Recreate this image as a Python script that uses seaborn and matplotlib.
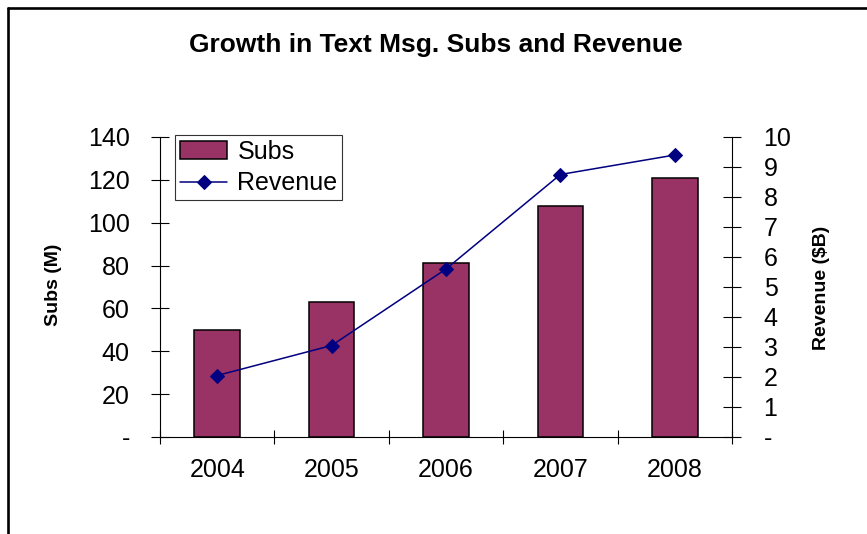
import numpy as np
import matplotlib
matplotlib.use("Agg")
import matplotlib.pyplot as plt
from matplotlib.ticker import FixedLocator, FuncFormatter
from matplotlib.lines import Line2D
import seaborn as sns

years = ["2004", "2005", "2006", "2007", "2008"]
subs = [50, 63, 81, 108, 121]
revenue = [2.05, 3.05, 5.6, 8.75, 9.4]

title = "Growth in Text Msg. Subs and Revenue"
ylabel_left = "Subs (M)"
ylabel_right = "Revenue ($B)"

sns.set_style("white")
plt.rcParams["font.family"] = ["Liberation Sans", "DejaVu Sans"]
plt.rcParams["text.color"] = "black"
plt.rcParams["axes.labelcolor"] = "black"
plt.rcParams["xtick.color"] = "black"
plt.rcParams["ytick.color"] = "black"

W, H = 867, 534
fig = plt.figure(figsize=(W / 100, H / 100), dpi=100)
fig.patch.set_facecolor("white")

x0, x1, yb, yt = 160, 732, 437, 137
ax = fig.add_axes([x0 / W, 1 - yb / H, (x1 - x0) / W, (yb - yt) / H])
ax.set_facecolor("white")

sns.barplot(x=years, y=subs, ax=ax, color="#993366", saturation=1, width=0.4,
            edgecolor="black", linewidth=1.1, label="Subs")
ax.set_xlim(-0.5, len(years) - 0.5)
ax.set_ylim(0, 140)
ax.set_yticks(np.arange(0, 141, 20))

ax2 = ax.twinx()
sns.lineplot(x=np.arange(len(years)), y=revenue, ax=ax2, color="#000080",
             marker="D", markersize=7, markeredgecolor="#000080",
             linewidth=1.1, label="Revenue", legend=False)
ax2.set_ylim(0, 10)
ax2.set_yticks(np.arange(0, 11, 1))
ax2.set_xlim(-0.5, len(years) - 0.5)

fmt = FuncFormatter(lambda v, p: "-" if abs(v) < 1e-9 else f"{int(round(v))}")
ax.yaxis.set_major_formatter(fmt)
ax2.yaxis.set_major_formatter(fmt)

# x ticks: marks at category boundaries, labels at centers
ax.xaxis.set_major_locator(FixedLocator(np.arange(-0.5, len(years), 1.0)))
ax.xaxis.set_major_formatter(FuncFormatter(lambda v, p: ""))
ax.set_xticks(np.arange(len(years)), labels=years, minor=True)
ax.tick_params(axis="x", which="major", direction="inout", length=9.5,
               width=0.8, color="black", bottom=True)
ax.tick_params(axis="x", which="minor", length=0, pad=15, labelsize=18)

ax.tick_params(axis="y", direction="inout", length=13.5, width=0.8,
               color="black", left=True, labelsize=18, pad=15)
ax2.tick_params(axis="y", direction="inout", length=13.5, width=0.8,
                color="black", right=True, labelsize=18, pad=16)
ax2.tick_params(axis="x", bottom=False, labelbottom=False)

for a in (ax, ax2):
    for s in a.spines.values():
        s.set_color("black")
        s.set_linewidth(0.8)
    a.spines["top"].set_visible(False)
ax.spines["right"].set_visible(False)
ax2.spines["left"].set_visible(False)
ax2.spines["bottom"].set_visible(False)

ax.set_xlabel("")
ax.set_ylabel(ylabel_left, fontsize=14, fontweight="bold")
ax.yaxis.set_label_coords(-0.171, 0.507)
ax2.set_ylabel(ylabel_right, fontsize=14, fontweight="bold", rotation=90)
ax2.yaxis.set_label_coords(1.1416, 0.497)

h1, l1 = ax.get_legend_handles_labels()
h2, l2 = ax2.get_legend_handles_labels()
leg = ax2.legend(h1 + h2, l1 + l2, loc="upper left",
                 bbox_to_anchor=(0.026, 1.007), borderaxespad=0,
                 fontsize=18, frameon=True, fancybox=False, shadow=False,
                 handlelength=1.9, handletextpad=0.4, borderpad=0.2,
                 labelspacing=0.3)
leg.get_frame().set_edgecolor("black")
leg.get_frame().set_linewidth(0.8)
if ax.get_legend() is not None:
    ax.get_legend().remove()

fig.text(436 / W, 1 - 45 / H, title, ha="center", va="center",
         fontsize=19, fontweight="bold")

# outer chart frame (cropped on right/bottom)
fig.add_artist(Line2D([8 / W, 1.0], [1 - 7.5 / H, 1 - 7.5 / H],
                      transform=fig.transFigure, color="black", linewidth=1.9))
fig.add_artist(Line2D([8 / W, 8 / W], [0.0, 1 - 7.5 / H],
                      transform=fig.transFigure, color="black", linewidth=1.9))

fig.savefig("out.png", dpi=100, facecolor="white")
